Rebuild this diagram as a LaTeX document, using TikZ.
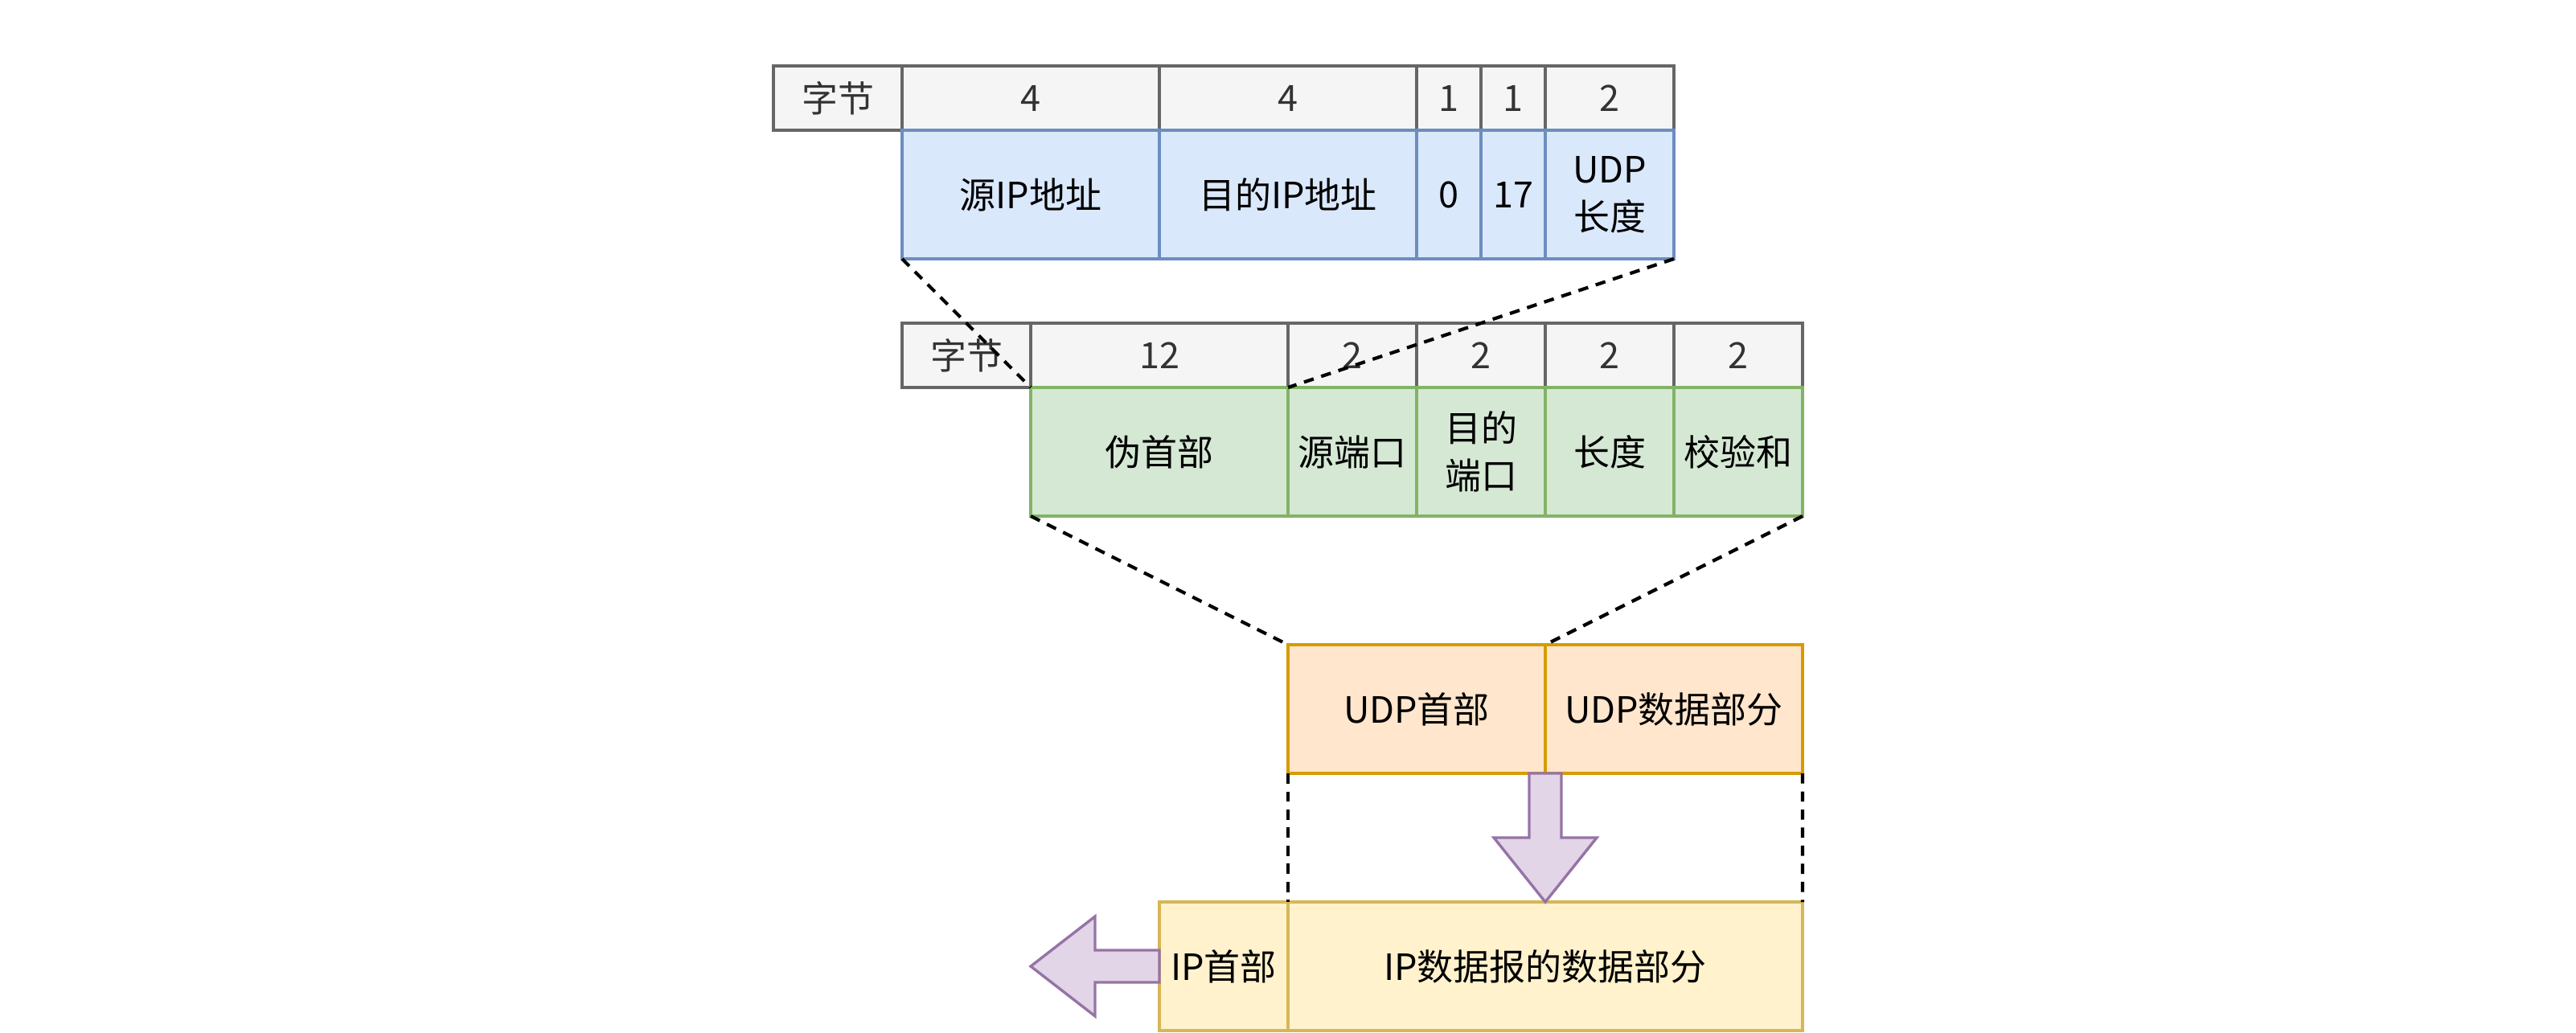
\documentclass[tikz,border=0pt]{standalone}
\usepackage{fontspec}
\setmainfont{Noto Sans CJK SC}
\usepackage{tikz}
\usetikzlibrary{positioning, calc}
\definecolor{hdrfill}{HTML}{F5F5F5}
\definecolor{hdrline}{HTML}{666666}
\definecolor{hdrtext}{HTML}{333333}
\definecolor{ipfill}{HTML}{DAE8FC}
\definecolor{ipline}{HTML}{6C8EBF}
\definecolor{segfill}{HTML}{D5E8D4}
\definecolor{segline}{HTML}{82B366}
\definecolor{udpfill}{HTML}{FFE6CC}
\definecolor{udpline}{HTML}{D79B00}
\definecolor{dgfill}{HTML}{FFF2CC}
\definecolor{dgline}{HTML}{D6B656}
\definecolor{arrfill}{HTML}{E1D5E7}
\definecolor{arrline}{HTML}{9673A6}
\tikzset{
    cellbase/.style={draw, line width=1.2pt, inner sep=0pt, outer sep=0pt, anchor=north west,
        align=center, font=\fontsize{16pt}{21pt}\selectfont},
    hdr/.style={cellbase, fill=hdrfill, draw=hdrline, text=hdrtext},
    ipbox/.style={cellbase, fill=ipfill, draw=ipline},
    segbox/.style={cellbase, fill=segfill, draw=segline},
    udpbox/.style={cellbase, fill=udpfill, draw=udpline},
    dgbox/.style={cellbase, fill=dgfill, draw=dgline},
    guide/.style={line width=1.5pt, dash pattern=on 4.5pt off 3.5pt},
    fatarrow/.style={line width=1.2pt, fill=arrfill, draw=arrline, line join=miter}
}
\newcommand{\field}[7]{
    \node[#6, minimum width=#4cm, minimum height=#5cm] (#1) at (#2,#3) {#7};
}

\begin{document}
\begin{tikzpicture}[x=1cm, y=-1cm]
    \useasboundingbox (-0.025,-0.025) rectangle (40.025,16.025);
    \field{hbytea}{12}{1}{2}{1}{hdr}{字节}
    \field{hsrcip}{14}{1}{4}{1}{hdr}{4}
    \field{hdstip}{18}{1}{4}{1}{hdr}{4}
    \field{hzero}{22}{1}{1}{1}{hdr}{1}
    \field{hproto}{23}{1}{1}{1}{hdr}{1}
    \field{hulen}{24}{1}{2}{1}{hdr}{2}
    \field{srcip}{14}{2}{4}{2}{ipbox}{源IP地址}
    \field{dstip}{18}{2}{4}{2}{ipbox}{目的IP地址}
    \field{zero}{22}{2}{1}{2}{ipbox}{0}
    \field{proto}{23}{2}{1}{2}{ipbox}{17}
    \field{ulen}{24}{2}{2}{2}{ipbox}{UDP\\长度}

    \field{hbyteb}{14}{5}{2}{1}{hdr}{字节}
    \field{hpseudo}{16}{5}{4}{1}{hdr}{12}
    \field{hsport}{20}{5}{2}{1}{hdr}{2}
    \field{hdport}{22}{5}{2}{1}{hdr}{2}
    \field{hlen}{24}{5}{2}{1}{hdr}{2}
    \field{hcsum}{26}{5}{2}{1}{hdr}{2}
    \field{pseudo}{16}{6}{4}{2}{segbox}{伪首部}
    \field{sport}{20}{6}{2}{2}{segbox}{源端口}
    \field{dport}{22}{6}{2}{2}{segbox}{目的\\端口}
    \field{len}{24}{6}{2}{2}{segbox}{长度}
    \field{csum}{26}{6}{2}{2}{segbox}{校验和}

    \field{udphdr}{20}{10}{4}{2}{udpbox}{UDP首部}
    \field{udpdata}{24}{10}{4}{2}{udpbox}{UDP数据部分}

    \field{iphdr}{18}{14}{2}{2}{dgbox}{IP首部}
    \field{ipdata}{20}{14}{8}{2}{dgbox}{IP数据报的数据部分}

    \draw[guide] (srcip.south west) -- (pseudo.north west);
    \draw[guide] (ulen.south east) -- (sport.north west);
    \draw[guide] (pseudo.south west) -- (udphdr.north west);
    \draw[guide] (csum.south east) -- (udphdr.north east);
    \draw[guide] (udphdr.south west) -- (ipdata.north west);
    \draw[guide] (udpdata.south east) -- (ipdata.north east);

    \draw[fatarrow] ($(udphdr.south east)+(-0.25,0)$) -- ++(0,1) -- ++(-0.55,0) -- (ipdata.north)
        -- ($(udphdr.south east)+(0.8,1)$) -- ++(-0.55,0) -- ++(0,-1) -- cycle;
    \draw[fatarrow] ($(iphdr.west)+(0,-0.25)$) -- ++(-1,0) -- ++(0,-0.525) -- ($(iphdr.west)+(-2,0)$)
        -- ($(iphdr.west)+(-1,0.775)$) -- ++(0,-0.525) -- ++(1,0) -- cycle;
\end{tikzpicture}
\end{document}
